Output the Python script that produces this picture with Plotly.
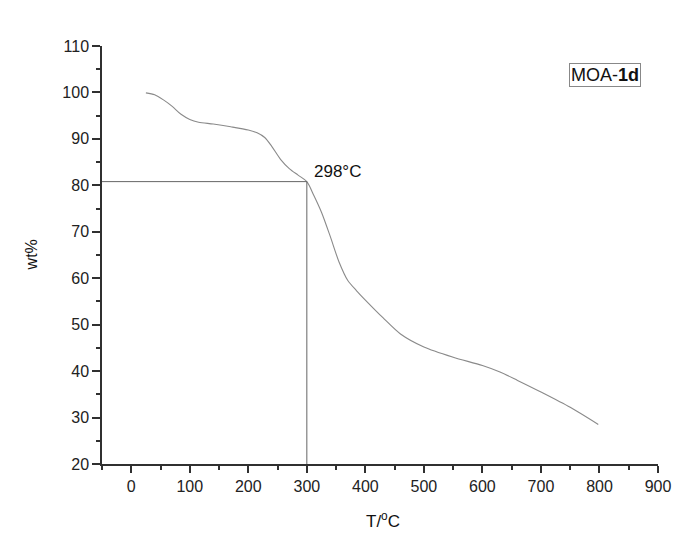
import plotly.graph_objects as go

temp_c = [25, 40, 55, 70, 85, 100, 115, 140, 170, 200, 215, 228, 240, 255, 270, 285, 300,
          312, 325, 340, 355, 370, 385, 400, 430, 460, 500, 550, 600, 630, 660, 700, 750, 798]
wt_pct = [99.9, 99.5, 98.4, 97.0, 95.3, 94.2, 93.6, 93.2, 92.6, 91.9, 91.3, 90.3, 88.4, 85.6,
          83.6, 82.2, 80.8, 77.8, 74.2, 69.0, 63.5, 59.5, 57.3, 55.3, 51.5, 48.0, 45.2, 43.0,
          41.2, 39.8, 38.0, 35.5, 32.2, 28.5]
onset_label = "298°C"
guide_t = 300
guide_wt = 80.8
x_ticks = [0, 100, 200, 300, 400, 500, 600, 700, 800, 900]
y_ticks = [20, 30, 40, 50, 60, 70, 80, 90, 100, 110]

FONT = "Liberation Sans, Arial, sans-serif"

fig = go.Figure()
fig.add_trace(go.Scatter(x=temp_c, y=wt_pct, mode="lines",
                         line=dict(color="#8a8a8a", width=1.1, shape="spline", smoothing=0.8),
                         showlegend=False, hoverinfo="skip"))
# guide lines to the onset point
fig.add_trace(go.Scatter(x=[-50, guide_t, guide_t], y=[guide_wt, guide_wt, 20], mode="lines",
                         line=dict(color="#666666", width=1),
                         showlegend=False, hoverinfo="skip"))

axis_common = dict(showgrid=False, zeroline=False, showline=True, linecolor="#303030",
                   linewidth=1.5, ticks="outside", tickcolor="#303030", tickwidth=1.5,
                   tickfont=dict(family=FONT, size=16, color="#222"))
fig.update_xaxes(range=[-50, 900], tickvals=x_ticks, ticklen=7,
                 minor=dict(dtick=50, ticks="outside", ticklen=4, tickcolor="#303030", tickwidth=1.5),
                 **axis_common)
fig.update_yaxes(range=[20, 110], tickvals=y_ticks, ticklen=8,
                 minor=dict(dtick=5, ticks="outside", ticklen=4, tickcolor="#303030", tickwidth=1.5),
                 **axis_common)

fig.add_annotation(x=309, y=83, text=onset_label, showarrow=False,
                   xanchor="left", yanchor="middle", font=dict(family=FONT, size=17, color="#111"))
fig.add_annotation(xref="paper", yref="paper", x=0.905, y=0.931, text="MOA-<b>1d</b>",
                   xanchor="center", yanchor="middle",
                   showarrow=False, font=dict(family=FONT, size=18, color="#111"),
                   bordercolor="#888", borderwidth=1, borderpad=1, bgcolor="white")
fig.add_annotation(xref="paper", yref="paper", x=0.505, y=-0.135, text="T/<sup>o</sup>C",
                   xanchor="center", showarrow=False, yanchor="middle",
                   font=dict(family=FONT, size=17, color="#111"))
fig.add_annotation(xref="paper", yref="paper", x=-0.127, y=0.5, text="wt%", textangle=-90,
                   showarrow=False, xanchor="center", yanchor="middle",
                   font=dict(family=FONT, size=16, color="#111"))

fig.update_layout(width=683, height=534, plot_bgcolor="white", paper_bgcolor="white",
                  margin=dict(l=102, r=17, t=46, b=70))
fig.write_html("out.html")
